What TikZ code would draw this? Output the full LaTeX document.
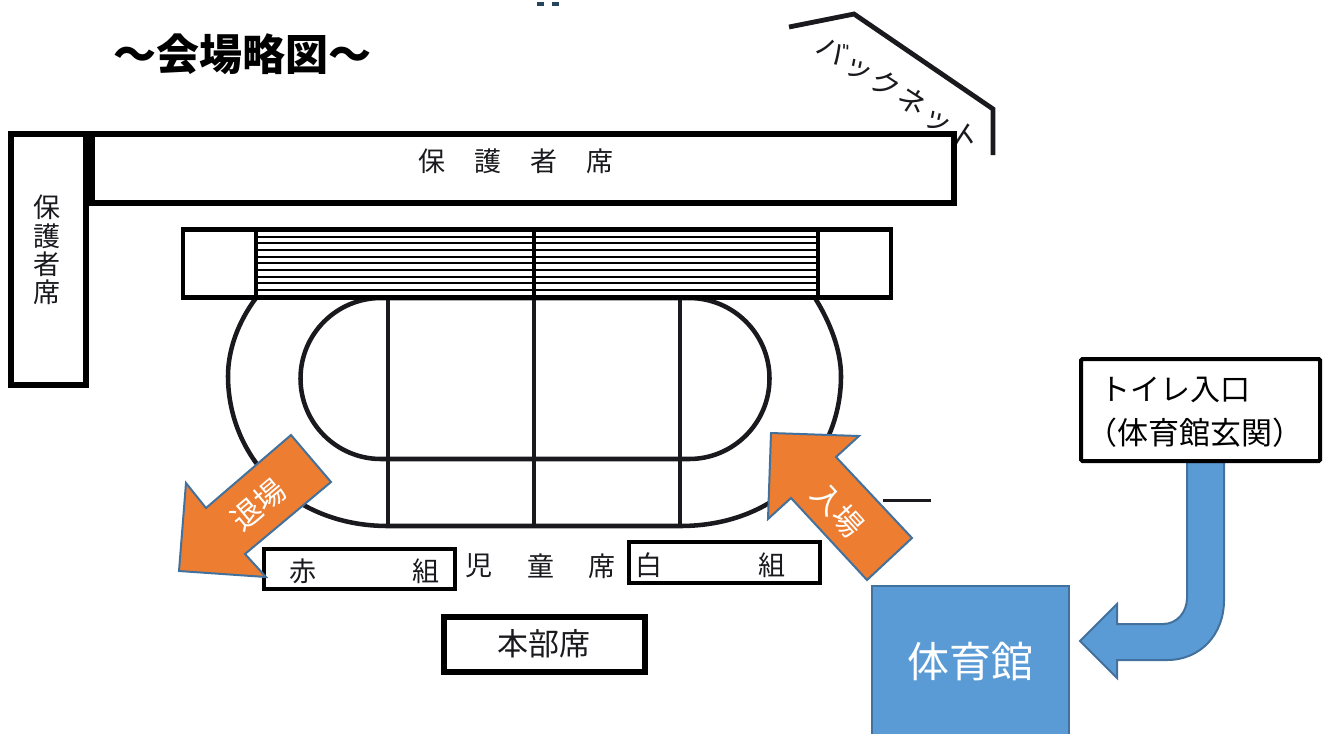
\documentclass[tikz,border=0pt]{standalone}
\usepackage{fontspec}
\newfontfamily\jp{Noto Sans CJK JP}
\newcommand{\pxfont}[1]{\fontsize{\dimexpr #1pt*3/4\relax}{\dimexpr #1pt*9/8\relax}\selectfont}
\definecolor{orangeA}{HTML}{ED7D31}
\definecolor{blueA}{HTML}{5B9BD5}
\definecolor{edgeA}{HTML}{41719C}
\definecolor{inkA}{HTML}{1A1A1E}
\tikzset{
  heavybox/.style={draw=black,line width=4.5pt,fill=white},
  midbox/.style={draw=black,line width=3.3pt},
  trackline/.style={draw=inkA,line width=3.4pt},
  hatchline/.style={draw=black,line width=1.7pt},
  orangearrow/.style={draw=edgeA,fill=orangeA,line width=1.5pt,line join=miter},
  bluefill/.style={draw=edgeA,fill=blueA,line width=1.5pt},
  lbl/.style={inner sep=0pt,text=inkA,font=\jp\pxfont{27}},
  whitelbl/.style={inner sep=0pt,text=white,font=\jp\pxfont{30}},
}
\begin{document}
\begin{tikzpicture}[x=0.75pt,y=-0.75pt]
\useasboundingbox (0,0) rectangle (1323,733);
% top marks
\fill[edgeA!60!black] (537,1.5) rectangle (544,5.5);
\fill[edgeA!60!black] (552,1.5) rectangle (559,5.5);
% title
\node[inner sep=0pt,font=\jp\bfseries\pxfont{43}] (title) at (242,54) {～会場略図～};
% back net
\draw[line width=3.6pt,draw=inkA,line join=miter] (789,27) -- (854,14) -- (993,109) -- (993,155);
\node[lbl,rotate=-33,font=\jp\pxfont{29}] (net) at (899,93) {バ\kern2pt ッ\kern2pt ク\kern2pt ネ\kern2pt ッ\kern2pt ト};
% parent seats
\path[heavybox] (92,134) rectangle (954,203);
\path[heavybox] (11,134) rectangle (86,385);
\node[lbl] (p1) at (516,161) {保\kern21.75pt 護\kern21.75pt 者\kern21.75pt 席};
\node[lbl,align=center] (p2) at (47,250) {保\\[-9.2pt]護\\[-9.2pt]者\\[-9.2pt]席};
% track
\draw[trackline] (256,298) .. controls (238,322) and (228,350) .. (228,376)
  .. controls (228,455) and (290,526) .. (388,526) -- (680,526)
  .. controls (780,526) and (841,455) .. (841,376)
  .. controls (841,350) and (830,322) .. (815,298);
\draw[trackline] (381,298) arc[start angle=-90,end angle=-270,radius=80.5] -- (689,459) arc[start angle=90,end angle=-90,radius=80.5] -- cycle;
\foreach \x in {388,534,680} \draw[trackline] (\x,298) -- (\x,526);
% hatched stand
\foreach \y in {236.7,243.3,250,256.7,263.3,270,276.7,283.3,290}
  \draw[hatchline] (256,\y) -- (818,\y);
\draw[midbox] (183,229.5) rectangle (891,297.5);
\foreach \x in {256,534,818} \draw[midbox] (\x,229.5) -- (\x,297.5);
% short dash
\draw[line width=2.2pt,draw=inkA] (883,500.5) -- (931,500.5);
% children's seats
\draw[midbox,fill=white] (264,549) rectangle (455,589);
\node[lbl] (r1) at (303,571) {赤};
\node[lbl] (r2) at (426,571) {組};
\node[lbl] (c1) at (479,566) {児};
\node[lbl] (c2) at (541,566) {童};
\node[lbl] (c3) at (602,566) {席};
\draw[midbox,fill=white] (629,542) rectangle (820,583);
\node[lbl] (w1) at (649,565) {白};
\node[lbl] (w2) at (772,565) {組};
% headquarters
\path[heavybox] (444,617) rectangle (645,672);
\node[lbl,font=\jp\pxfont{31}] (hq) at (544,644) {本部席};
% orange arrows
\draw[orangearrow] (291,435) -- (331,482) -- (245,554) -- (266,577) -- (179,571) -- (186,483) -- (206,508) -- cycle;
\node[whitelbl,rotate=40] (exit) at (258,505) {退場};
\draw[orangearrow] (771,433) -- (859,436) -- (836,457) -- (912,538) -- (867,580) -- (791,498) -- (768,519) -- cycle;
\node[whitelbl,rotate=-48] (enter) at (838,510) {入場};
% gym
\draw[bluefill] (872,586) rectangle (1069,740);
\node[inner sep=0pt,text=white,font=\jp\pxfont{42}] (gym) at (970,662) {体育館};
% blue bent arrow
\draw[bluefill] (1187,462) -- (1224,462) -- (1224,600) .. controls (1224,635) and (1200,660) .. (1167,660) -- (1117,660) -- (1117,678) -- (1080,641) -- (1117,604) -- (1117,624) -- (1163,624) .. controls (1177,624) and (1187,612) .. (1187,598) -- cycle;
% toilet box
\draw[draw=black,line width=3pt,fill=white,rounded corners=1pt] (1081,359) rectangle (1320,461);
\node[inner sep=0pt,anchor=west,font=\jp\pxfont{30}] (t1) at (1100,390) {トイレ入口};
\node[inner sep=0pt,anchor=west,font=\jp\pxfont{31}] (t2) at (1086,433) {（体育館玄関）};
\end{tikzpicture}
\end{document}
